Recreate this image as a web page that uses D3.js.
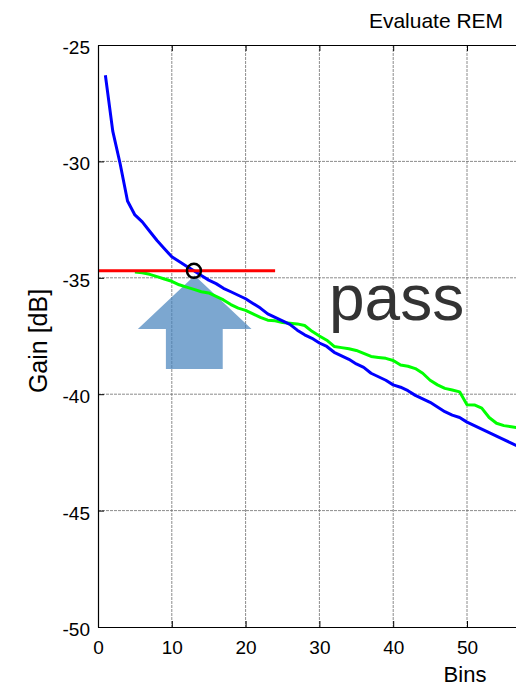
<!DOCTYPE html>
<html>
<head>
<meta charset="utf-8">
<script src="https://cdn.jsdelivr.net/npm/d3@7"></script>
<style>
  body { margin: 0; background: #fff; }
  svg { display: block; font-family: "Liberation Sans", Arial, sans-serif; }
</style>
</head>
<body>
<div id="chart"></div>
<script>
// bins (x) and gain values
var blueBins = d3.range(1, 59);
var blueGain = [-26.3, -28.7, -30.1, -31.7, -32.3, -32.6, -33.0, -33.4, -33.75, -34.1,
                -34.3, -34.5, -34.7, -34.9, -35.1, -35.25, -35.45, -35.6, -35.75, -35.9,
                -36.1, -36.3, -36.55, -36.7, -36.85, -37.0, -37.25, -37.45, -37.6, -37.8,
                -37.95, -38.2, -38.35, -38.5, -38.7, -38.85, -39.1, -39.25, -39.4, -39.6,
                -39.7, -39.85, -40.05, -40.2, -40.35, -40.55, -40.75, -40.9, -41.0, -41.2,
                -41.35, -41.5, -41.65, -41.8, -41.95, -42.1, -42.25, -42.4];

var greenBins = d3.range(5, 59);
var greenGain = [-34.75, -34.78, -34.85, -34.95, -35.05, -35.15, -35.3, -35.4, -35.5, -35.6,
                 -35.65, -35.8, -35.95, -36.15, -36.3, -36.4, -36.55, -36.7, -36.82, -36.85,
                 -36.92, -36.95, -36.98, -37.05, -37.3, -37.5, -37.68, -37.95, -38.0, -38.05,
                 -38.12, -38.25, -38.38, -38.42, -38.46, -38.55, -38.75, -38.8, -38.9, -39.1,
                 -39.4, -39.6, -39.75, -39.82, -39.9, -40.45, -40.46, -40.6, -41.0, -41.25,
                 -41.35, -41.4, -41.45, -41.5];

var limitBins = [0, 24];
var limitGain = -34.7;
var crossBin = 13;

var xTicks = [0, 10, 20, 30, 40, 50];
var yTicks = [-50, -45, -40, -35, -30, -25];

// arrow outline (bin, dB): tip, head, shaft
var arrowBins = [13.1, 20.8, 16.9, 16.9, 9.2, 9.2, 5.4];
var arrowGain = [-34.9, -37.2, -37.2, -38.92, -38.92, -37.2, -37.2];

var W = 516, H = 687;
var padLeft = 98, padTop = 45, padBottom = 627;

var svg = d3.select("#chart").append("svg")
    .attr("width", W)
    .attr("height", H);

var x = d3.scaleLinear().domain([0, 60]).range([padLeft, padLeft + 7.38 * 60]);
var y = d3.scaleLinear().domain([-50, -25]).range([padBottom, padTop]);

svg.append("clipPath").attr("id", "plotclip")
  .append("rect")
    .attr("x", x(0)).attr("y", y(-25))
    .attr("width", x(60) - x(0)).attr("height", y(-50) - y(-25));

/* grid */
var grid = svg.append("g").attr("class", "grid");
grid.selectAll(".vg").data(xTicks.slice(1)).enter().append("line")
    .attr("x1", function(d) { return x(d); }).attr("x2", function(d) { return x(d); })
    .attr("y1", y(-25)).attr("y2", y(-50))
    .style("stroke", "#6e6e6e").style("stroke-width", 0.8)
    .style("stroke-dasharray", "3,1");
grid.selectAll(".hg").data(yTicks.slice(1, -1)).enter().append("line")
    .attr("x1", x(0)).attr("x2", x(60))
    .attr("y1", function(d) { return y(d); }).attr("y2", function(d) { return y(d); })
    .style("stroke", "#6e6e6e").style("stroke-width", 0.8)
    .style("stroke-dasharray", "3,1");

/* arrow annotation, semi transparent */
var arrowPts = arrowBins.map(function(b, i) { return [x(b), y(arrowGain[i])]; });
svg.append("path")
    .attr("d", d3.line()(arrowPts) + "Z")
    .style("fill", "#4481bc")
    .style("fill-opacity", 0.7);

/* data lines */
var line = d3.line()
    .x(function(d) { return x(d[0]); })
    .y(function(d) { return y(d[1]); });

var plot = svg.append("g").attr("clip-path", "url(#plotclip)");

plot.append("path")
    .datum(greenBins.map(function(b, i) { return [b, greenGain[i]]; }))
    .attr("d", line)
    .style("fill", "none").style("stroke", "#00ff00").style("stroke-width", 3)
    .style("stroke-linejoin", "round");

plot.append("path")
    .datum(blueBins.map(function(b, i) { return [b, blueGain[i]]; }))
    .attr("d", line)
    .style("fill", "none").style("stroke", "#0000ff").style("stroke-width", 3)
    .style("stroke-linejoin", "round");

plot.append("path")
    .datum(limitBins.map(function(b) { return [b, limitGain]; }))
    .attr("d", line)
    .style("fill", "none").style("stroke", "#ff0000").style("stroke-width", 3);

plot.append("circle")
    .attr("cx", x(crossBin)).attr("cy", y(limitGain)).attr("r", 7)
    .style("fill", "none").style("stroke", "#000").style("stroke-width", 2.5);

/* axes: box with inward ticks, plain hyphen minus like the original */
var fmt = function(d) { return String(d); };
var xAxisB = d3.axisBottom(x).tickValues(xTicks).tickSizeInner(-6).tickSizeOuter(0).tickPadding(14).tickFormat(fmt);
var xAxisT = d3.axisTop(x).tickValues(xTicks).tickSizeInner(-6).tickSizeOuter(0).tickFormat("");
var yAxisL = d3.axisLeft(y).tickValues(yTicks).tickSizeInner(-6).tickSizeOuter(0).tickPadding(8).tickFormat(fmt);

function styleAxis(g) {
  g.select(".domain").style("stroke", "#000").style("stroke-width", 1.2);
  g.selectAll(".tick line").style("stroke", "#000");
  g.selectAll("text").style("font-size", "19px").style("fill", "#000")
    .style("font-family", "'Liberation Sans', Arial, sans-serif");
}

svg.append("g").attr("transform", "translate(0," + padBottom + ")").call(xAxisB).call(styleAxis);
svg.append("g").attr("transform", "translate(0," + padTop + ")").call(xAxisT).call(styleAxis);
var yg = svg.append("g").attr("transform", "translate(" + padLeft + ",0)").call(yAxisL).call(styleAxis);
yg.selectAll("text").attr("dy", "0.45em");

/* labels */
svg.append("text")
    .attr("x", 436).attr("y", 28)
    .attr("text-anchor", "middle")
    .style("font-size", "21px")
    .text("Evaluate REM");

svg.append("text")
    .attr("x", 465).attr("y", 682)
    .attr("text-anchor", "middle")
    .style("font-size", "22px")
    .text("Bins");

svg.append("text")
    .attr("transform", "translate(47,341) rotate(-90)")
    .attr("text-anchor", "middle")
    .style("font-size", "25px")
    .text("Gain [dB]");

svg.append("text")
    .attr("x", 329).attr("y", 320)
    .style("font-size", "64px")
    .style("fill", "#333")
    .text("pass");
</script>
</body>
</html>
